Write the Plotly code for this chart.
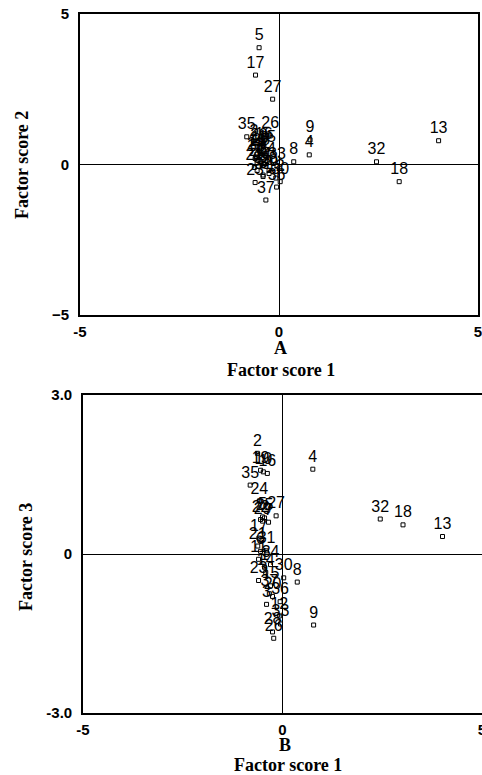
import plotly.graph_objects as go

# ---- data ----
ids = [str(i) for i in range(1, 38)]
f1 = [-0.45, -0.63, -0.40, 0.76, -0.50, -0.55, -0.35, 0.37, 0.78, -0.48,
      -0.60, -0.08, 4.01, -0.42, -0.30, -0.38, -0.59, 3.02, -0.55, -0.25,
      -0.62, -0.55, -0.60, -0.58, -0.45, -0.22, -0.16, -0.25, -0.50, 0.03,
      -0.40, 2.45, -0.05, -0.30, -0.81, -0.06, -0.33]
f2 = [0.10, 0.71, -0.35, 0.32, 3.88, -0.20, 0.30, 0.09, 0.82, 0.45,
      0.20, -0.45, 0.79, -0.05, 0.50, 0.60, 2.97, -0.57, 0.35, -0.30,
      -0.10, 0.05, -0.60, 0.25, 0.40, 0.95, 2.17, -0.20, 0.55, -0.57,
      -0.40, 0.09, -0.05, 0.10, 0.92, -0.75, -1.18]
f3 = [-0.25, 1.90, -0.95, 1.60, 0.70, 0.05, 0.60, -0.53, -1.34, 1.55,
      -0.10, -1.17, 0.33, -0.35, -0.60, 1.52, 0.30, 0.55, 1.58, -0.80,
      0.15, 0.65, -0.50, 1.00, 0.68, -1.59, 0.72, -1.47, 0.62, -0.45,
      0.06, 0.66, -1.32, -0.20, 1.30, -0.90, -0.75]

x_ticks = [-5, 0, 5]
x_ticktext = ["-5", "0", "5"]
y2_ticks = [-5, 0, 5]
y3_ticks = [-3, 0, 3]
y3_ticktext = ["-3.0", "0", "3.0"]

W, H = 482, 775

def px(x0, x1):
    return [x0 / W, x1 / W]

def py(top, bottom):
    return [1 - bottom / H, 1 - top / H]

fig = go.Figure()

marker = dict(symbol="square-open", size=4, color="black", line=dict(width=1, color="black"))
tfont = dict(family="Liberation Sans, Arial, sans-serif", size=16, color="black")

fig.add_trace(go.Scatter(x=f1, y=f2, text=ids, mode="markers+text",
                         textposition="top center", marker=marker, textfont=tfont,
                         xaxis="x", yaxis="y", showlegend=False, cliponaxis=False))
fig.add_trace(go.Scatter(x=f1, y=f3, text=ids, mode="markers+text",
                         textposition="top center", marker=marker, textfont=tfont,
                         xaxis="x2", yaxis="y2", showlegend=False, cliponaxis=False))

tickfont = dict(family="Liberation Sans, Arial, sans-serif", size=15, color="black",
                weight="bold")
axis_common = dict(showline=True, mirror=True, linecolor="black", linewidth=1.6,
                   showgrid=False, zeroline=True, zerolinecolor="black",
                   zerolinewidth=1.2, ticks="", tickfont=tickfont, automargin=False)

fig.update_layout(
    width=W, height=H,
    margin=dict(l=0, r=0, t=0, b=0),
    paper_bgcolor="white", plot_bgcolor="white",
    xaxis=dict(domain=px(80, 478), range=[-5, 5], tickvals=x_ticks, ticktext=x_ticktext,
               anchor="y", ticklabelstandoff=2, ticklabeloverflow="allow", **axis_common),
    yaxis=dict(domain=py(14, 315), range=[-5, 5], tickvals=y2_ticks, anchor="x",
               ticklabelstandoff=6, **axis_common),
    xaxis2=dict(domain=px(83, 482), range=[-5, 5], tickvals=x_ticks, ticktext=x_ticktext,
                anchor="y2", ticklabelstandoff=2, ticklabeloverflow="allow", **axis_common),
    yaxis2=dict(domain=py(395, 713), range=[-3, 3], tickvals=y3_ticks, ticktext=y3_ticktext,
                anchor="x2", ticklabelstandoff=6, **axis_common),
)

serif = "Liberation Serif, Times New Roman, serif"

def ann(text, xp, yp, size=18, angle=0, bold=True):
    t = f"<b>{text}</b>" if bold else text
    fig.add_annotation(text=t, x=xp / W, y=1 - yp / H, xref="paper", yref="paper",
                       showarrow=False, textangle=angle,
                       font=dict(family=serif, size=size, color="black"),
                       xanchor="center", yanchor="middle")

ann("A", 280, 348)
ann("Factor score 1", 281, 370)
ann("Factor score 2", 22, 165, angle=-90)
ann("B", 285, 745)
ann("Factor score 1", 288, 765)
ann("Factor score 3", 26, 557, angle=-90)

fig.write_html("out.html", config={"displayModeBar": False},
               post_script="document.body.style.margin='0';")
